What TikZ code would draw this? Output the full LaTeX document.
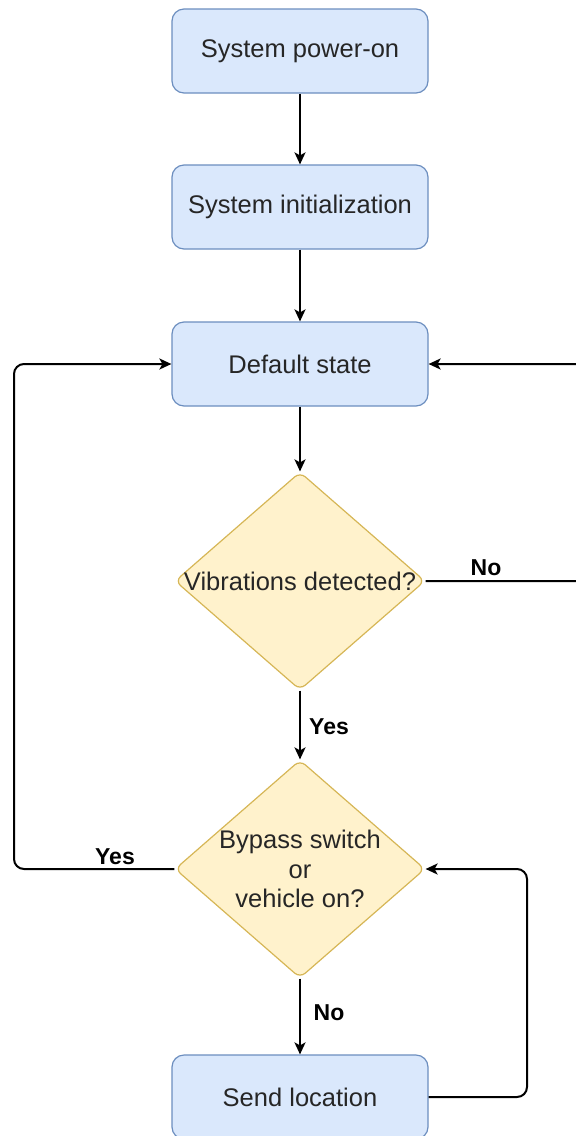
\documentclass[tikz,border=0pt]{standalone}
\usepackage{fontspec}
\setmainfont{Liberation Sans}
\usetikzlibrary{shapes.geometric,arrows.meta}
\definecolor{boxfill}{HTML}{DAE8FC}
\definecolor{boxline}{HTML}{6C8EBF}
\definecolor{decfill}{HTML}{FFF2CC}
\definecolor{decline}{HTML}{D6B656}
\definecolor{txt}{HTML}{262626}
\tikzset{
  procbox/.style={draw=boxline, fill=boxfill, line width=1.2pt, rounded corners=12pt,
    minimum width=256pt, minimum height=84pt, inner sep=0pt,
    font=\fontsize{25.5}{30}\selectfont, text=txt},
  decbox/.style={shape=diamond, draw=decline, fill=decfill, line width=1.2pt, rounded corners=7pt,
    minimum width=250pt, minimum height=218pt, inner sep=0pt},
  dectext/.style={font=\fontsize{25.5}{29.5}\selectfont, text=txt, align=center},
  conn/.style={line width=2pt, rounded corners=10pt, -{Stealth[length=12pt,width=11pt,inset=3pt]}},
  lbl/.style={font=\fontsize{23}{26}\selectfont\bfseries, text=black}
}
\begin{document}
\begin{tikzpicture}[x=1pt,y=-1pt]
\useasboundingbox (0,0) rectangle (576,1136);
\clip (0,0) rectangle (576,1136);
\node[procbox] (pw) at (300,51) {System power-on};
\node[procbox] (init) at (300,207) {System initialization};
\node[procbox] (def) at (300,364) {Default state};
\node[decbox] (vib) at (300,581) {};
\node[dectext] (vibt) at (300,581) {Vibrations detected?};
\node[decbox] (byp) at (300,869) {};
\node[dectext] (bypt) at (300,869) {Bypass switch\\or\\vehicle on?};
\node[procbox] (send) at (300,1097) {Send location};
\coordinate (rtop) at (590,364);
\coordinate (ltop) at (14,364);
\coordinate (sr) at (527,1097);

\draw[conn] (pw) -- (init);
\draw[conn] (init) -- (def);
\draw[conn] (def) -- (vib);
\draw[conn] (vib) -- (byp);
\draw[conn] (byp) -- (send);
\draw[conn] (vib.east) -| (rtop) -- (def.east);
\draw[conn] (byp.west) -| (ltop) -- (def.west);
\draw[conn] (send.east) -- (sr) |- (byp.east);

\node[lbl] (no1) at (486,568) {No};
\node[lbl] (yes1) at (329,727) {Yes};
\node[lbl] (yes2) at (115,857) {Yes};
\node[lbl] (no2) at (329,1013) {No};
\end{tikzpicture}
\end{document}
